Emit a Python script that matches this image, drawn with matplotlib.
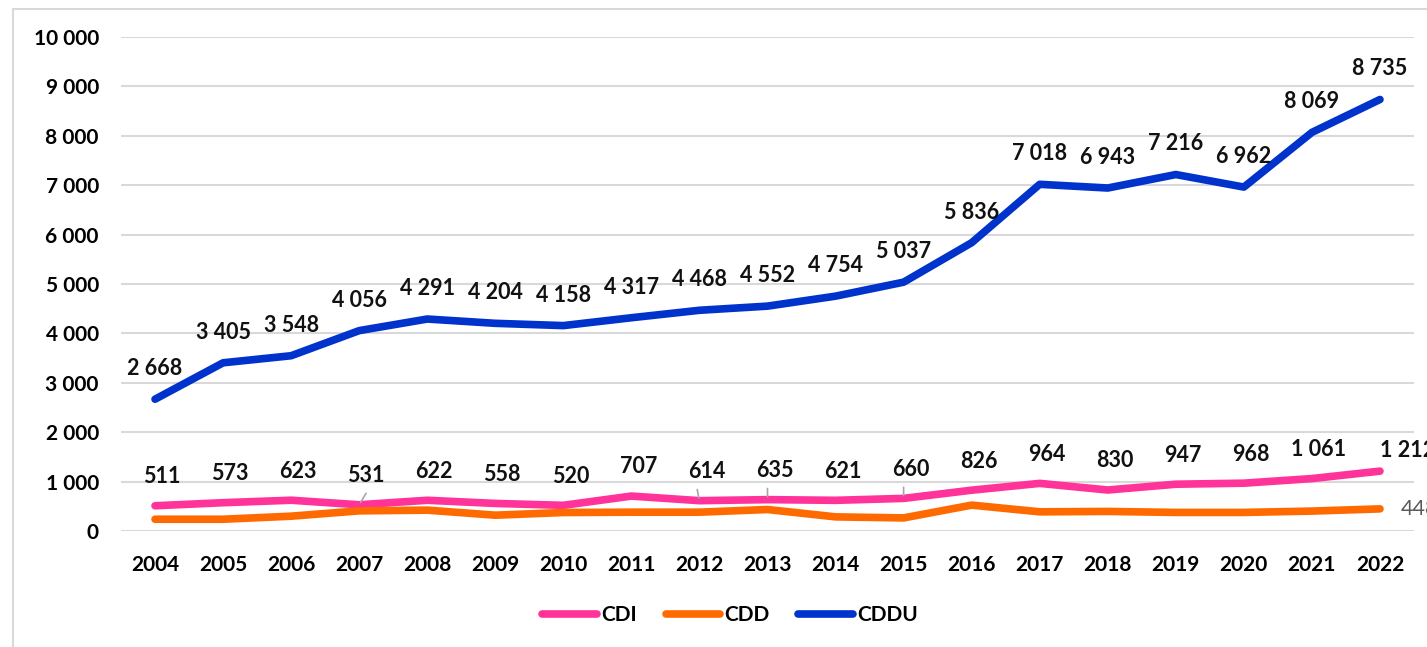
import matplotlib.pyplot as plt
from matplotlib.patches import Rectangle

years = [str(y) for y in range(2004, 2023)]
cdi = [511, 573, 623, 531, 622, 558, 520, 707, 614, 635, 621, 660, 826, 964, 830, 947, 968, 1061, 1212]
cdd = [238, 238, 300, 408, 422, 320, 374, 381, 381, 435, 286, 265, 524, 388, 396, 376, 376, 403, 448]
cddu = [2668, 3405, 3548, 4056, 4291, 4204, 4158, 4317, 4468, 4552, 4754, 5037, 5836, 7018, 6943, 7216, 6962, 8069, 8735]

pink = '#FF3399'
orange = '#FF6A00'
blue = '#0033CC'


def fmt(v):
    return f"{v:,}".replace(",", " ")


plt.rcParams['font.family'] = ['Lato', 'DejaVu Sans']
fig = plt.figure(figsize=(14.27, 6.47), dpi=100)
ax = fig.add_axes([121 / 1427, 1 - 531 / 647, (1414 - 121) / 1427, (531 - 37) / 647])

x = list(range(len(years)))
lw = 5.5
ax.plot(x, cdi, color=pink, lw=lw, solid_capstyle='round', label='CDI')
ax.plot(x, cdd, color=orange, lw=lw, solid_capstyle='round', label='CDD')
ax.plot(x, cddu, color=blue, lw=lw, solid_capstyle='round', label='CDDU')

fs = 15.5
ax.set_xlim(-0.5, len(years) - 0.5)
ax.set_ylim(0, 10000)
ax.set_yticks(range(0, 10001, 1000))
ax.set_yticklabels([fmt(v) for v in range(0, 10001, 1000)], fontsize=fs - 0.5, fontweight='bold')
ax.set_xticks(x)
ax.set_xticklabels(years, fontsize=fs - 0.5, fontweight='bold')
ax.tick_params(axis='x', length=0, pad=17)
ax.tick_params(axis='y', length=0, pad=16)
ax.grid(axis='y', color='#D9D9D9', lw=1.5)
ax.set_axisbelow(True)
for s in ax.spines.values():
    s.set_visible(False)

# data labels
for i, v in enumerate(cddu):
    ax.annotate(fmt(v), (i, v), textcoords='offset points', xytext=(0, 22),
                ha='center', va='center', fontsize=fs, fontweight='bold', color='#111111')
for i, v in enumerate(cdi[:-1]):
    ax.annotate(fmt(v), (i, v), textcoords='offset points', xytext=(5, 21),
                ha='center', va='center', fontsize=fs, fontweight='bold', color='#111111')
ax.annotate(fmt(cdi[-1]), (len(cdi) - 1, cdi[-1]), textcoords='offset points', xytext=(0, 15),
            ha='left', va='center', fontsize=fs, fontweight='bold', color='#111111',
            annotation_clip=False)
ax.annotate(fmt(cdd[-1]), (len(cdd) - 1, cdd[-1]), textcoords='offset points', xytext=(15, 0),
            ha='left', va='center', fontsize=fs, color='#595959', annotation_clip=False)

# leader lines for a few CDI labels
leader_dx = {3: 6, 8: -2, 9: 0, 11: 0}
for i, dx in leader_dx.items():
    ax.annotate('', (i, cdi[i]), textcoords='offset points', xytext=(dx, 10),
                arrowprops=dict(arrowstyle='-', color='#A6A6A6', lw=1.2))

fig.legend(loc='center', bbox_to_anchor=(730 / 1427, 1 - 615 / 647), ncol=3, frameon=False,
           prop={'size': fs - 0.5, 'weight': 'bold'}, handlelength=2.6, columnspacing=1.4,
           handletextpad=0.2)

fig.patches.append(Rectangle((13 / 1427, -0.1), 1.2, 1 - 9 / 647 + 0.1, transform=fig.transFigure,
                             fill=False, edgecolor='#D9D9D9', lw=1.5))

fig.savefig('out.png', dpi=100)
